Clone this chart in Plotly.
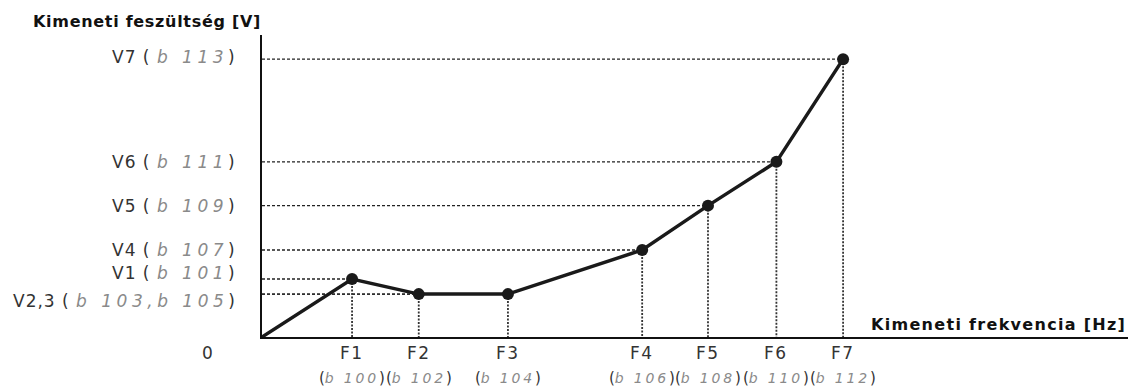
import plotly.graph_objects as go

# Output frequency break points (F1..F7) and their parameter codes
freq_names = ["F1", "F2", "F3", "F4", "F5", "F6", "F7"]
freq_codes = ["b 100", "b 102", "b 104", "b 106", "b 108", "b 110", "b 112"]
freq = [10.4, 18.1, 28.4, 43.9, 51.5, 59.4, 67.1]

# Output voltage at each break point
volt = [19.2, 14.2, 14.2, 28.8, 43.5, 58.0, 92.0]

# Voltage axis labels: (name, code, index of the point it belongs to, vertical nudge in px)
volt_names = ["V1", "V2,3", "V4", "V5", "V6", "V7"]
volt_codes = ["b 101", "b 103,b 105", "b 107", "b 109", "b 111", "b 113"]
volt_index = [0, 1, 3, 4, 5, 6]
volt_nudge = [6, -7, 0, 0, 0, 2]

y_title = "Kimeneti feszültség [V]"
x_title = "Kimeneti frekvencia [Hz]"

MAIN = "DejaVu Sans, Verdana, sans-serif"
SEG = "DejaVu Sans"
INK = "#1a1a1a"
LABEL = "#333333"
CODE = "#8a8a8a"


def spaced(text, ls):
    return f'<span style="letter-spacing:{ls}px">{text}</span>'


def code(text, size, ls):
    return (f'<span style="font-family:{SEG};font-style:italic;color:{CODE};'
            f'font-size:{size}px;letter-spacing:{ls}px">{text}</span>')


fig = go.Figure()

# Dotted guides: horizontal from the voltage axis, vertical down to the frequency axis
hx, hy, vx, vy = [], [], [], []
for f, v in zip(freq, volt):
    hx += [0, f, None]
    hy += [v, v, None]
    vx += [f, f, None]
    vy += [v, 0, None]

fig.add_trace(go.Scatter(x=hx, y=hy, mode="lines", hoverinfo="skip",
                         line=dict(color="#222222", width=1.4, dash="3px,2px")))
fig.add_trace(go.Scatter(x=vx, y=vy, mode="lines", hoverinfo="skip",
                         line=dict(color="#333333", width=1.8, dash="2px,1.5px")))

# V/f characteristic starting from the origin
fig.add_trace(go.Scatter(x=[0] + freq, y=[0] + volt, mode="lines",
                         line=dict(color=INK, width=3.5), hoverinfo="skip"))
fig.add_trace(go.Scatter(x=freq, y=volt, mode="markers", cliponaxis=False,
                         marker=dict(color=INK, size=12), hoverinfo="skip"))

ann = []

# Voltage labels left of the axis
for name, c, idx, nudge in zip(volt_names, volt_codes, volt_index, volt_nudge):
    txt = spaced(f"{name} ( ", 1) + code(c, 17, 4.5) + spaced(")", 0)
    ann.append(dict(x=0, y=volt[idx], xref="x", yref="y", xanchor="right",
                    yanchor="middle", xshift=-25, yshift=nudge, text=txt,
                    showarrow=False, font=dict(family=MAIN, size=17, color=LABEL)))

# Frequency labels under the axis
for name, c, f in zip(freq_names, freq_codes, freq):
    ann.append(dict(x=f, y=0, xref="x", yref="y", xanchor="center",
                    yanchor="middle", yshift=-16, text=spaced(name, 1.5),
                    showarrow=False, font=dict(family=MAIN, size=17, color=LABEL)))
    sub = spaced("(", 0) + code(c, 14, 2.8) + spaced(")", 0)
    ann.append(dict(x=f, y=0, xref="x", yref="y", xanchor="center",
                    yanchor="middle", yshift=-41, text=sub,
                    showarrow=False, font=dict(family=MAIN, size=15, color=LABEL)))

# Origin label
ann.append(dict(x=0, y=0, xref="x", yref="y", xanchor="center", yanchor="middle",
                xshift=-55, yshift=-16, text="0", showarrow=False,
                font=dict(family=MAIN, size=17, color=LABEL)))

# Axis titles
ann.append(dict(x=0, y=1, xref="x", yref="paper", xanchor="left", yanchor="middle",
                xshift=-231, yshift=14, text=spaced(y_title, 0.7), showarrow=False,
                font=dict(family=MAIN, size=16, color="#111111", weight="bold")))
ann.append(dict(x=1, y=0, xref="paper", yref="paper", xanchor="right",
                yanchor="middle", xshift=0, yshift=13, text=spaced(x_title, 1.3),
                showarrow=False,
                font=dict(family=MAIN, size=16, color="#111111", weight="bold")))

fig.update_layout(
    width=1130, height=387,
    margin=dict(l=262, r=2, t=35, b=50),
    paper_bgcolor="white", plot_bgcolor="white",
    showlegend=False,
    annotations=ann,
    xaxis=dict(range=[0, 100], showgrid=False, zeroline=False, showticklabels=False,
               ticks="", showline=True, linecolor="#111111", linewidth=2, fixedrange=True),
    yaxis=dict(range=[0, 100], showgrid=False, zeroline=False, showticklabels=False,
               ticks="", showline=True, linecolor="#111111", linewidth=2, fixedrange=True),
)

fig.write_html("out.html", config={"displayModeBar": False})
